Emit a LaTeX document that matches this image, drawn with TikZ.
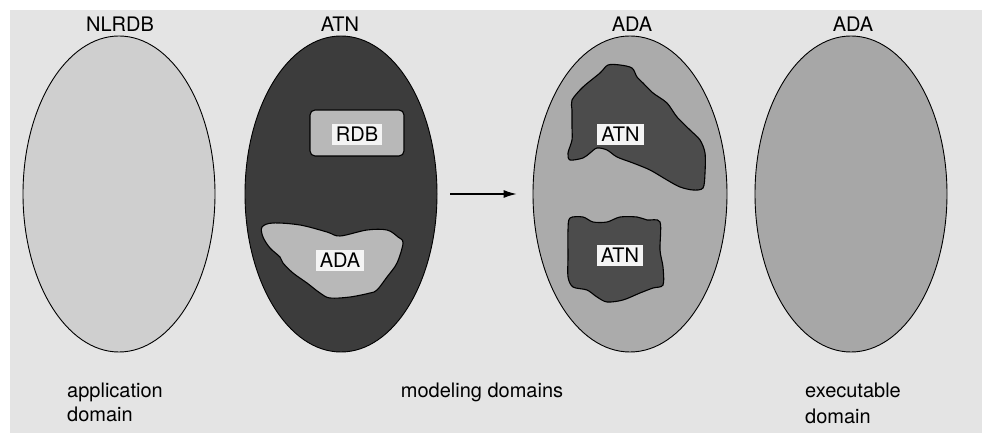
\documentclass[tikz,border=0pt]{standalone}
\usepackage{fontspec}
\setmainfont{TeX Gyre Heros}
\usetikzlibrary{shapes.geometric,arrows.meta}
\definecolor{bgc}{HTML}{E4E4E4}
\definecolor{lightdom}{HTML}{CFCFCF}
\definecolor{darkdom}{HTML}{3C3C3C}
\definecolor{middom}{HTML}{ABABAB}
\definecolor{lastdom}{HTML}{A7A7A7}
\definecolor{lightblob}{HTML}{B8B8B8}
\definecolor{darkblob}{HTML}{4C4C4C}
\definecolor{tagfill}{HTML}{F4F4F4}
\begin{document}
\begin{tikzpicture}[x=1pt,y=-1pt,
  font=\fontsize{20}{24}\selectfont,
  domoval/.style={ellipse, draw=black, line width=0.9pt, minimum width=192pt, minimum height=316pt, inner sep=0pt},
  lbl/.style={anchor=base, inner sep=0pt},
  blob/.style={draw=black, line width=1.1pt},
  tag/.style={fill=tagfill, inner xsep=4pt, inner ysep=3.5pt, text height=14pt, text depth=0pt},
  arr/.style={line width=1.1pt, -{Latex[length=13pt,width=8pt]}}]
\useasboundingbox (0,0) rectangle (982,435);
\fill[bgc] (10,10) rectangle (982,433);

% domains
\node[domoval, fill=lightdom] (e1) at (119,194) {};
\node[domoval, fill=darkdom] (e2) at (341,194) {};
\node[domoval, fill=middom, minimum width=194pt] (e3) at (630,194) {};
\node[domoval, fill=lastdom] (e4) at (851,194) {};

% titles
\node[lbl] (t1) at (120,32) {NLRDB};
\node[lbl] (t2) at (340,32) {ATN};
\node[lbl] (t3) at (632,32) {ADA};
\node[lbl] (t4) at (853,32) {ADA};

% RDB box inside ATN
\node[draw=black, line width=1.1pt, fill=lightblob, rounded corners=5pt, minimum width=94pt, minimum height=46pt] (rdbbox) at (357,133) {};
\node[tag] (rdb) at (357,135) {RDB};

% ADA blob inside ATN
\draw[blob, fill=lightblob] plot[smooth cycle, tension=0.55] coordinates {
  (262,227) (273,223) (300,225) (327,232) (340,236) (367,230) (387,230) (398,237)
  (403,243) (397,263) (387,277) (377,290) (370,293) (350,297) (330,298) (320,293)
  (307,283) (293,273) (283,263) (280,257) (270,248) (263,237)};
\node[tag] (ada1) at (340,261) {ADA};

% ATN blobs inside ADA
\draw[blob, fill=darkblob] plot[smooth cycle, tension=0.5] coordinates {
  (572,100) (583,87) (600,73) (608,65) (620,65) (632,68) (637,77) (643,83)
  (653,93) (667,103) (677,117) (690,130) (700,140) (705,153) (705,173) (703,188)
  (693,190) (680,187) (667,180) (650,170) (633,163) (617,157) (607,150) (597,148)
  (590,153) (583,158) (570,160) (568,153) (572,140) (572,127) (572,110)};
\node[tag] (atn1) at (620.5,135) {ATN};

\draw[blob, fill=darkblob] plot[smooth cycle, tension=0.5] coordinates {
  (570,218) (583,217) (593,222) (607,222) (620,217) (637,217) (647,220) (660,222)
  (660,250) (663,267) (663,285) (653,288) (640,293) (623,300) (607,302) (597,297)
  (587,290) (573,287) (568,277) (568,257) (568,230)};
\node[tag] (atn2) at (620,256) {ATN};

% arrow
\draw[arr] ([xshift=13pt]e2.east) -- ([xshift=-16pt]e3.west);

% captions
\node[lbl, anchor=base west] (c1a) at (67,397) {application};
\node[lbl, anchor=base west] (c1b) at (67,421) {domain};
\node[lbl] (c2) at (482,397) {modeling domains};
\node[lbl, anchor=base west] (c3a) at (805,397) {executable};
\node[lbl, anchor=base west] (c3b) at (805,423) {domain};
\end{tikzpicture}
\end{document}
